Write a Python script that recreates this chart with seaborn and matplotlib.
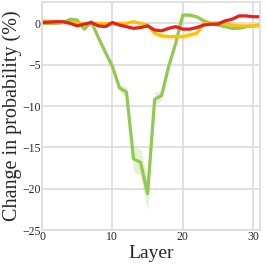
import numpy as np
import pandas as pd
import matplotlib
matplotlib.use('Agg')
import matplotlib.pyplot as plt
import seaborn as sns

# Per-layer change in probability (%)
layers = list(range(32))
green = [0.0, 0.0, 0.0, 0.1, 0.5, 0.4, -0.7, 0.2, -1.7, -3.5, -5.2, -7.8,
         -8.3, -16.4, -16.8, -20.6, -9.2, -8.7, -5.2, -2.4, 1.0, 1.0,
         0.8, 0.3, 0.0, -0.2, -0.4, -0.6, -0.6, -0.4, -0.3, -0.2]
green_err = [0.1, 0.1, 0.1, 0.1, 0.2, 0.2, 0.2, 0.2, 0.3, 0.4, 0.5, 0.5,
             0.6, 1.5, 1.6, 2.0, 0.8, 0.6, 0.5, 0.4, 0.3, 0.3,
             0.2, 0.2, 0.1, 0.1, 0.1, 0.1, 0.1, 0.1, 0.1, 0.1]
yellow = [0.3, 0.25, 0.2, 0.1, 0.1, 0.0, 0.0, 0.0, 0.0, 0.0, -0.1, 0.0,
          0.0, 0.2, 0.0, -0.2, -1.2, -1.5, -1.6, -1.6, -1.6, -1.4,
          -1.2, 0.0, 0.0, 0.1, 0.0, -0.2, -0.3, -0.3, -0.3, -0.3]
yellow_err = [0.2] * 15 + [0.3] * 8 + [0.15] * 9
red = [0.1, 0.15, 0.2, 0.2, 0.0, -0.3, -0.1, 0.1, -0.3, -0.4, 0.1, -0.2,
       -0.4, -0.6, -0.5, -0.3, -0.8, -0.9, -0.6, -0.4, -0.7, -0.7,
       -0.5, -0.2, -0.1, -0.1, 0.3, 0.5, 0.9, 0.9, 0.8, 0.8]
red_err = [0.1] * 32

series = {
    'green': (green, green_err, '#93c953'),
    'yellow': (yellow, yellow_err, '#fcc20a'),
    'red': (red, red_err, '#e3211f'),
}

sns.set_style('whitegrid', {'grid.color': '#dcdcdc', 'axes.edgecolor': '#dcdcdc'})
plt.rcParams['font.family'] = ['Liberation Serif', 'DejaVu Serif']

fig = plt.figure(figsize=(2.66, 2.66), dpi=100)
ax = fig.add_axes([0.158, 0.135, 0.82, 0.858])

for name, (vals, err, col) in series.items():
    df = pd.DataFrame({'layer': layers, 'val': vals})
    lo = np.array(vals) - np.array(err)
    hi = np.array(vals) + np.array(err)
    ax.fill_between(layers, lo, hi, color=col, alpha=0.25, linewidth=0)
    sns.lineplot(data=df, x='layer', y='val', color=col, linewidth=2.3, ax=ax)

ax.set_xlim(0, 31)
ax.set_ylim(-25, 2.6)
ax.set_xticks([0, 10, 20, 30])
ax.set_yticks([0, -5, -10, -15, -20, -25])
ax.grid(True, linewidth=1.2)
for s in ax.spines.values():
    s.set_linewidth(1.2)
ax.tick_params(labelsize=8.5, pad=1, length=0)
ax.set_xlabel('Layer', fontsize=14, labelpad=1)
ax.set_ylabel('Change in probability (%)', fontsize=14.5, labelpad=0)

fig.savefig('out.png', dpi=100)
